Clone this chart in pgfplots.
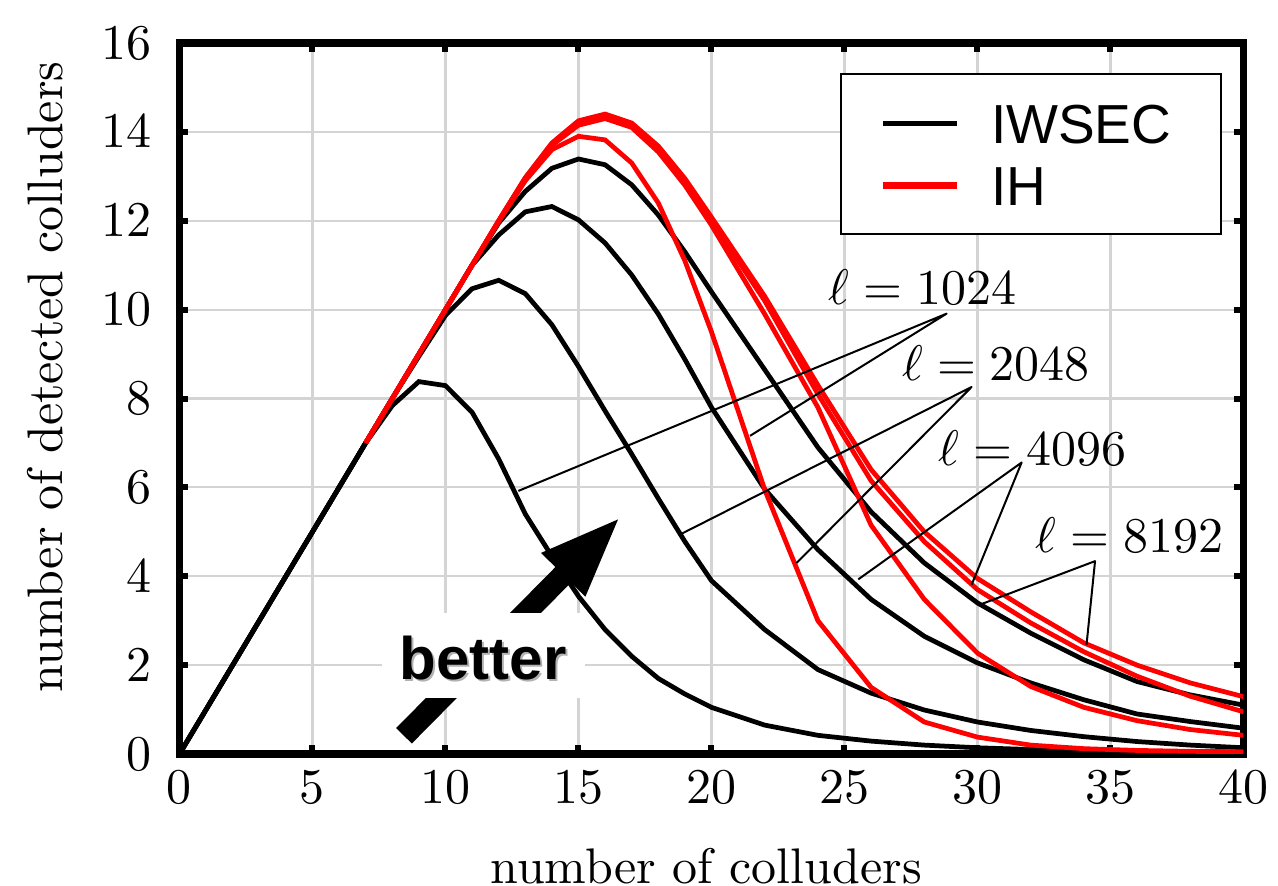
\documentclass[border=0pt]{standalone}
\usepackage{fontspec}
\usepackage{pgfplots}
\usepackage{pgfplotstable}
\pgfplotsset{compat=1.18}
\usetikzlibrary{arrows.meta}
\newfontfamily\legendfont{Liberation Sans}
\definecolor{gridgray}{RGB}{212,212,212}

% IWSEC curves (black)
\pgfplotstableread{
x a b c d
0 0 0 0 0
1 1 1 1 1
2 2 2 2 2
3 3 3 3 3
4 4 4 4 4
5 5 5 5 5
6 6 6 6 6
7 7 7 7 7
8 7.84 8 8 8
9 8.38 8.95 9 9
10 8.29 9.87 10 10
11 7.69 10.47 11.0 11
12 6.64 10.66 11.68 11.95
13 5.4 10.36 12.2 12.66
14 4.45 9.66 12.32 13.18
15 3.55 8.72 12.02 13.39
16 2.8 7.72 11.5 13.26
17 2.2 6.75 10.78 12.81
18 1.7 5.75 9.9 12.13
19 1.35 4.78 8.88 11.3
20 1.05 3.9 7.8 10.4
22 0.65 2.8 5.96 8.65
24 0.42 1.9 4.6 6.9
26 0.29 1.37 3.48 5.45
28 0.2 0.99 2.65 4.3
30 0.14 0.72 2.05 3.4
32 0.1 0.53 1.6 2.72
34 0.08 0.39 1.22 2.12
36 0.06 0.28 0.9 1.63
38 0.05 0.2 0.73 1.33
40 0.04 0.14 0.58 1.1
}\iwsec

% IH curves (red)
\pgfplotstableread{
x a b c d
7 7 7 7 7
8 8 8 8 8
9 9 9 9 9
10 10 10 10 10
11 11 11 11 11
12 11.98 12 12 12
13 12.9 12.95 12.96 12.97
14 13.6 13.7 13.72 13.75
15 13.9 14.15 14.2 14.25
16 13.82 14.3 14.35 14.4
17 13.3 14.1 14.15 14.2
18 12.4 13.55 13.62 13.68
19 11.1 12.8 12.88 12.95
20 9.5 11.9 12.0 12.08
22 5.95 9.9 10.2 10.3
24 3.0 7.8 8.1 8.3
26 1.5 5.15 6.15 6.4
28 0.72 3.48 4.78 5.0
30 0.38 2.27 3.7 3.95
32 0.2 1.52 2.95 3.2
34 0.12 1.05 2.3 2.5
36 0.08 0.75 1.75 2.0
38 0.06 0.55 1.3 1.6
40 0.05 0.42 0.95 1.29
}\ih

\begin{document}
\begin{tikzpicture}
\useasboundingbox (-35.9pt,-26.4pt) rectangle (219.7pt,150.8pt);
\begin{axis}[
  scale only axis, width=212.8pt, height=142.2pt,
  xmin=0, xmax=40, ymin=0, ymax=16,
  xtick={0,5,...,40}, ytick={0,2,...,16},
  grid=major, major grid style={gridgray, line width=0.45pt},
  axis line style={line width=1.5pt},
  tick align=inside, tick pos=both,
  major tick length=1.8pt,
  tick style={black, line width=1.2pt},
  xlabel={number of colluders}, ylabel={number of detected colluders},
  x label style={at={(axis description cs:0.495,-0.1575)}, anchor=center},
  y label style={at={(axis description cs:-0.1264,0.53)}, anchor=center},
  yticklabel style={xshift=-2pt},
  legend cell align=left,
  legend image code/.code={\draw[#1] (0pt,0pt) -- (14.8pt,0pt);},
  legend style={at={(rel axis cs:0.6208,0.9574)}, anchor=north west,
    draw=black, line width=0.4pt, fill=white,
    inner xsep=7.6pt, inner ysep=5.75pt, row sep=4.5pt, column sep=6.2pt,
    font=\fontsize{11}{13}\selectfont\legendfont,
    nodes={inner sep=0pt, text height=8pt, text depth=0pt}},
]
\addlegendimage{black, line width=1pt}
\addlegendentry{\makebox[38.3pt][l]{IWSEC}}
\addlegendimage{red, line width=1.4pt}
\addlegendentry{IH}

% arrow "better" with white box
\draw[line width=4.4pt, -{Triangle[width=11pt, length=16.6pt]}]
  (axis cs:8.44,0.41) -- (axis cs:16.62,5.36);
\node[fill=white, minimum width=40.7pt, minimum height=17pt, inner sep=0pt]
  at (axis cs:11.42,2.22) {};
\node[text=black!30, font=\fontsize{12}{14}\selectfont\legendfont\bfseries,
  inner sep=0pt] at (axis cs:11.42,2.15) [xshift=0.4pt, yshift=-0.4pt] {better};
\node[font=\fontsize{12}{14}\selectfont\legendfont\bfseries, inner sep=0pt]
  at (axis cs:11.42,2.15) {better};

% IWSEC
\foreach \c in {a,b,c,d}{
  \addplot[black, line width=0.95pt, forget plot] table[x=x, y=\c] {\iwsec};
}
% IH
\foreach \c in {a,b,c,d}{
  \addplot[red, line width=0.95pt, forget plot] table[x=x, y=\c] {\ih};
}

% annotation lines
\addplot[black, line width=0.4pt, line join=round, forget plot] coordinates {(12.74,5.92) (28.84,9.91) (21.45,7.16)};
\addplot[black, line width=0.4pt, line join=round, forget plot] coordinates {(18.82,4.94) (29.78,8.26) (23.2,4.3)};
\addplot[black, line width=0.4pt, line join=round, forget plot] coordinates {(25.52,3.93) (31.66,6.56) (29.78,3.81)};
\addplot[black, line width=0.4pt, line join=round, forget plot] coordinates {(30.09,3.36) (34.42,4.34) (34.1,2.46)};

\node at (axis cs:27.93,10.5) {$\ell = 1024$};
\node at (axis cs:30.7,8.8) {$\ell = 2048$};
\node at (axis cs:32.07,6.88) {$\ell = 4096$};
\node at (axis cs:35.72,4.92) {$\ell = 8192$};
\end{axis}
\end{tikzpicture}
\end{document}
